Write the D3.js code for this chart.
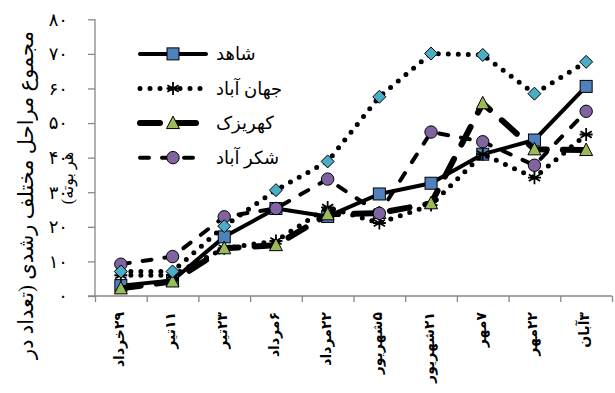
<!DOCTYPE html>
<html><head><meta charset="utf-8">
<script src="https://cdn.jsdelivr.net/npm/d3@7"></script>
<style>
body{margin:0;background:#fff;}
text{font-family:"Liberation Serif","DejaVu Sans",serif;}
</style></head>
<body><svg id="c" width="615" height="393"></svg>
<script>
const categories = ["۲۹خرداد","۱۱تیر","۲۳تیر","۶مرداد","۲۲مرداد","۵شهریور","۲۱شهریور","۷مهر","۲۲مهر","۳آبان"];
const shahed      = [3.0, 4.5, 17.1, 25.3, 23.0, 29.5, 32.6, 41.0, 45.1, 60.6];
const jahanabad   = [6.0, 6.0, 13.8, 15.9, 25.6, 21.1, 26.3, 41.0, 34.2, 46.7];
const kahrizak    = [2.2, 4.2, 13.8, 14.7, 23.6, 24.0, 26.8, 55.7, 42.4, 42.2];
const shakarabad  = [9.2, 11.4, 22.9, 25.3, 33.8, 23.9, 47.4, 44.6, 37.8, 53.4];
const unnamed     = [7.1, 7.1, 20.2, 30.6, 38.9, 57.6, 70.1, 69.7, 58.5, 67.7];
const seriesNames = ["شاهد","جهان آباد","کهریزک","شکر آباد"];
const yTicks = [0,10,20,30,40,50,60,70,80];
const yTickLabels = ["۰","۱۰","۲۰","۳۰","۴۰","۵۰","۶۰","۷۰","۸۰"];
const yTitle1 = "مجموع مراحل مختلف رشدی (تعداد در";
const yTitle2 = "هر بوته)";

const svg = d3.select("#c");
const L = 95, R = 612, T = 19.3, B = 296;
const y = d3.scaleLinear().domain([0,80]).range([B,T]);
const xb = d3.scaleLinear().domain([0,categories.length]).range([L,R]);
const x = d3.scalePoint().domain(categories).range([L,R]).padding(0.5);
const axisCol = "#878787";

// Y axis
const ya = svg.append("g").attr("transform",`translate(${L},0)`)
  .call(d3.axisLeft(y).tickValues(yTicks).tickSize(7).tickFormat(""));
ya.selectAll("path,line").attr("stroke",axisCol).attr("stroke-width",1.3);
ya.select(".domain").attr("d",`M0,${T}V${B}`);
svg.append("g").selectAll("text").data(yTicks).join("text")
  .attr("x",68).attr("y",d=>y(d)).attr("dy","0.35em").attr("text-anchor","end")
  .attr("font-size",18).attr("fill","#000").text((d,i)=>yTickLabels[i]);

// X axis
const xa = svg.append("g").attr("transform",`translate(0,${B})`)
  .call(d3.axisBottom(xb).tickValues(d3.range(categories.length+1)).tickSize(6).tickFormat(""));
xa.selectAll("path,line").attr("stroke",axisCol).attr("stroke-width",1.3);
xa.select(".domain").attr("d",`M${L-7},0H${R}`);
svg.append("g").selectAll("text").data(categories).join("text")
  .attr("transform",d=>`translate(${x(d)-2},312) rotate(-90)`)
  .attr("direction","rtl").attr("text-anchor","start").attr("dy","0.35em")
  .attr("font-size",14).attr("font-weight","bold").text(d=>d);

// Y title
svg.append("text").attr("transform","translate(26,195) rotate(-90)")
  .attr("direction","rtl").attr("text-anchor","middle").attr("dy","0.35em")
  .attr("font-size",21).text(yTitle1);
svg.append("text").attr("transform","translate(67,178) rotate(-90)")
  .attr("direction","rtl").attr("text-anchor","middle").attr("dy","0.35em")
  .attr("font-size",16).text(yTitle2);

const styles = [
  {vals:shahed, width:4, dash:null, marker:"square", fill:"#4f81bd"},
  {vals:jahanabad, width:5, dash:"0,10", marker:"star", fill:"#000"},
  {vals:kahrizak, width:6, dash:"20,16", marker:"triangle", fill:"#9bbb59"},
  {vals:shakarabad, width:4, dash:"9,13", marker:"circle", fill:"#8064a2"},
  {vals:unnamed, width:5, dash:"0,10", marker:"diamond", fill:"#4bacc6"}
];
const line = d3.line().x((d,i)=>x(categories[i])).y(d=>y(d));

function drawMarker(g, type, cx, cy, fill){
  if(type==="square"){
    g.append("rect").attr("x",cx-6).attr("y",cy-6).attr("width",12).attr("height",12)
     .attr("fill",fill).attr("stroke","#000").attr("stroke-width",1);
  } else if(type==="circle"){
    g.append("circle").attr("cx",cx).attr("cy",cy).attr("r",6.2)
     .attr("fill",fill).attr("stroke","#000").attr("stroke-width",1);
  } else if(type==="triangle"){
    g.append("path").attr("d",`M${cx},${cy-7}L${cx+6.5},${cy+5.5}L${cx-6.5},${cy+5.5}Z`)
     .attr("fill",fill).attr("stroke","#000").attr("stroke-width",1);
  } else if(type==="diamond"){
    g.append("path").attr("d",`M${cx},${cy-6.5}L${cx+6.5},${cy}L${cx},${cy+6.5}L${cx-6.5},${cy}Z`)
     .attr("fill",fill).attr("stroke","#000").attr("stroke-width",1);
  } else if(type==="star"){
    const r=6.5;
    let d="";
    [0,60,120].forEach(a=>{const t=a*Math.PI/180; d+=`M${cx-r*Math.sin(t)},${cy-r*Math.cos(t)}L${cx+r*Math.sin(t)},${cy+r*Math.cos(t)}`;});
    d+=`M${cx-r},${cy}L${cx+r},${cy}`;
    g.append("path").attr("d",d).attr("stroke","#000").attr("stroke-width",1.8).attr("fill","none");
  }
}

styles.forEach(s=>{
  const g = svg.append("g");
  g.append("path").attr("d",line(s.vals)).attr("fill","none").attr("stroke","#000")
   .attr("stroke-width",s.width).attr("stroke-linecap","round").attr("stroke-linejoin","round")
   .attr("stroke-dasharray",s.dash);
  s.vals.forEach((v,i)=>drawMarker(g,s.marker,x(categories[i]),y(v),s.fill));
});

// Legend
const legY = [70,60,50,40];
seriesNames.forEach((n,i)=>{
  const s = styles[i];
  const g = svg.append("g");
  const ly = y(legY[i]);
  g.append("line").attr("x1",140).attr("x2",206).attr("y1",ly).attr("y2",ly)
   .attr("stroke","#000").attr("stroke-width",s.width).attr("stroke-linecap","round")
   .attr("stroke-dasharray",s.dash);
  drawMarker(g,s.marker,173,ly,s.fill);
  g.append("text").attr("x",216).attr("y",ly).attr("dy","0.35em")
   .attr("direction","rtl").attr("text-anchor","end").attr("font-size",18).text(n);
});
</script></body></html>
